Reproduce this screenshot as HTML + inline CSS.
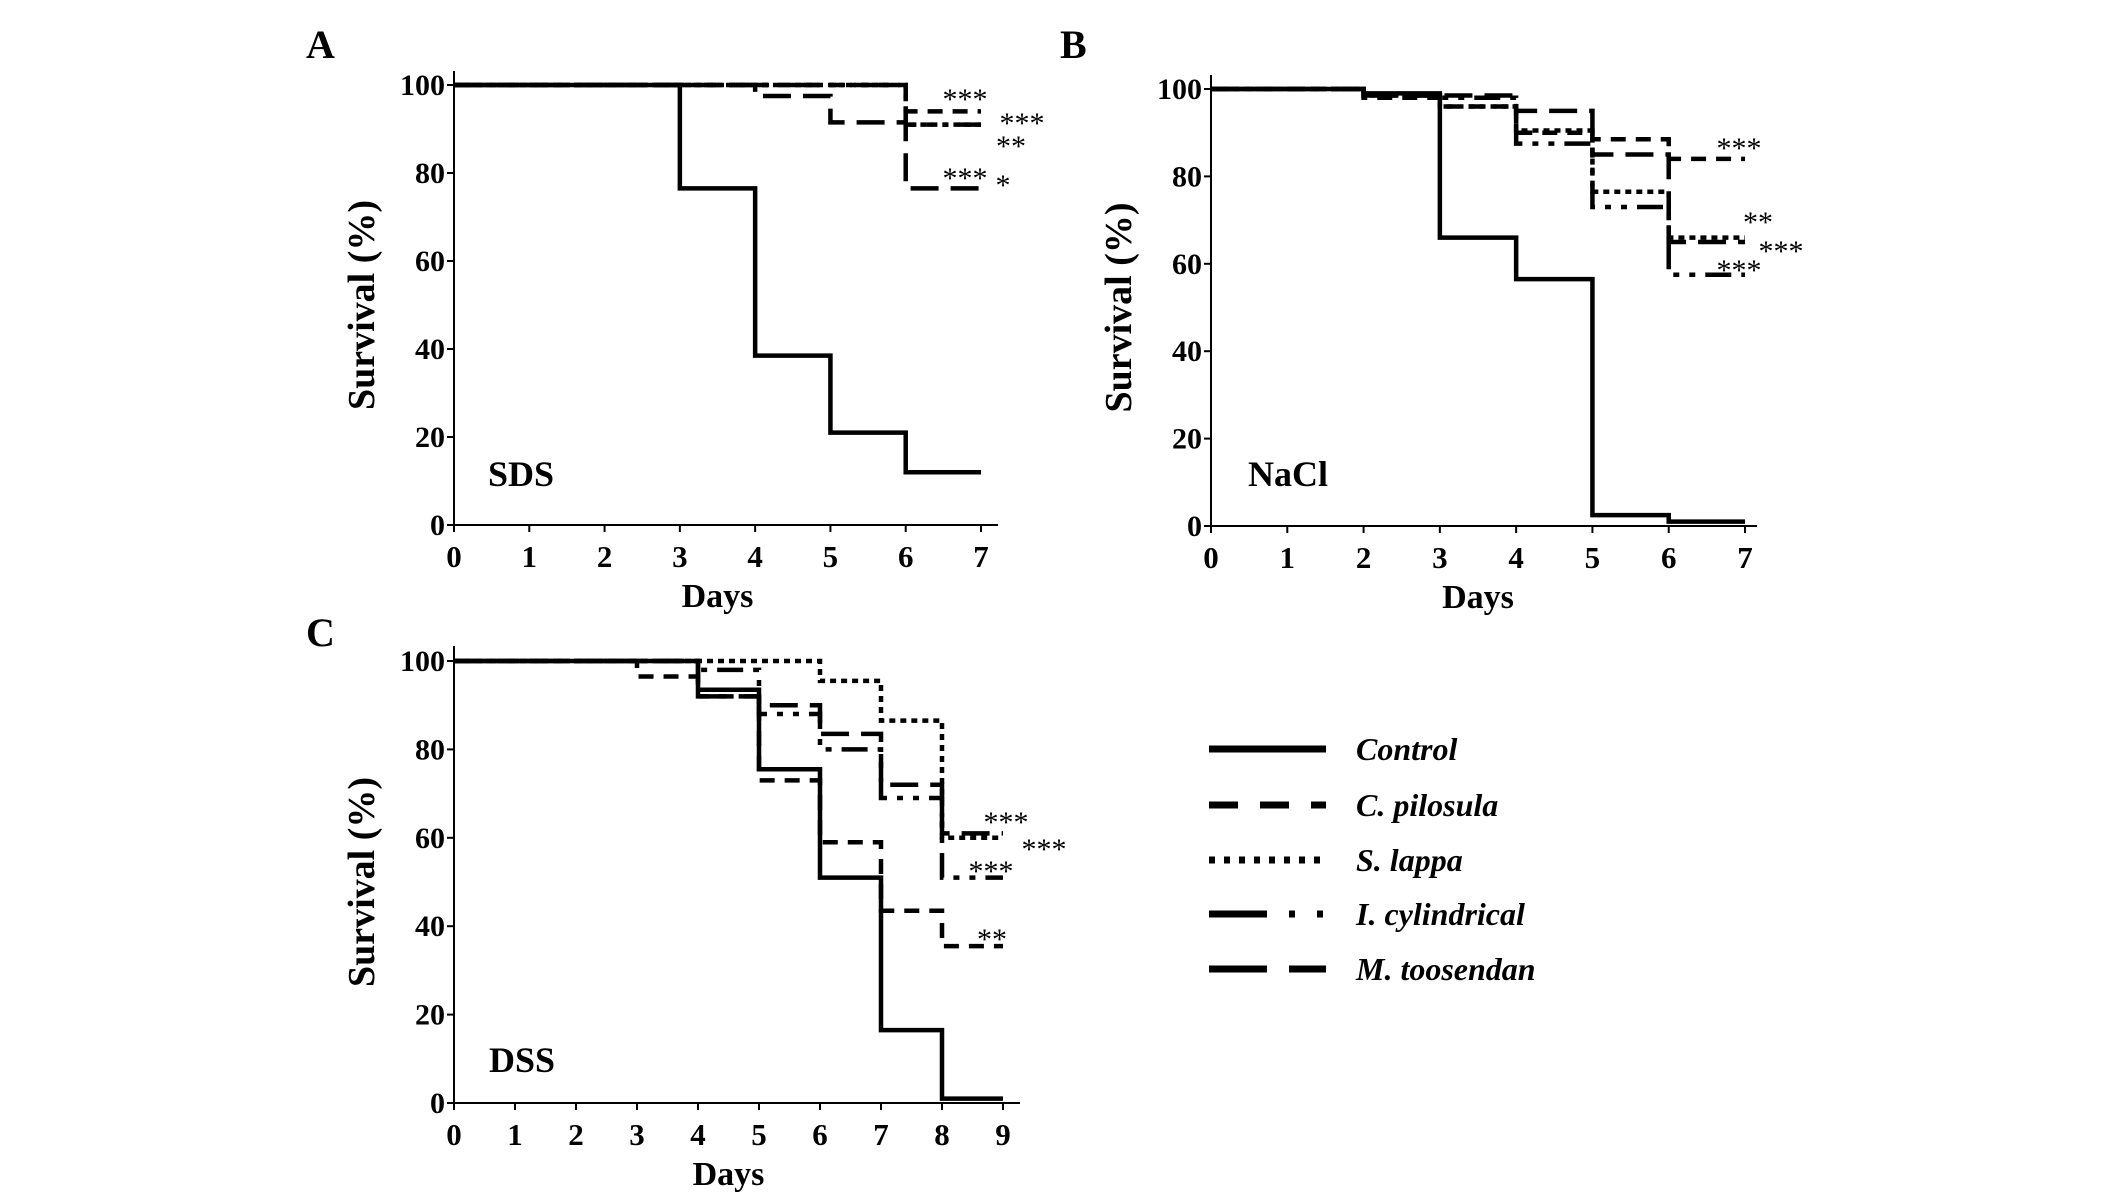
<!DOCTYPE html>
<html><head><meta charset="utf-8"><style>
html,body{margin:0;padding:0;background:#fff;}
svg{display:block;}
text{font-family:"Liberation Serif",serif;fill:#000;}
</style></head>
<body>
<svg id="fig" width="2126" height="1197" viewBox="0 0 2126 1197" xmlns="http://www.w3.org/2000/svg">
<rect width="2126" height="1197" fill="#fff"/>
</svg>
<script>
// ---- data ----
const seriesNames = ["Control","C. pilosula","S. lappa","I. cylindrical","M. toosendan"];
const daysA = [0,1,2,3,4,5,6,7];
const A_control = [100,100,100,76.5,38.5,21,12,12];
const A_pilosula = [100,100,100,100,100,100,94,94];
const A_lappa = [100,100,100,100,100,100,91,91];
const A_cylindrical = [100,100,100,100,100,100,91,91];
const A_toosendan = [100,100,100,100,97.5,91.5,76.5,76.5];
const daysB = [0,1,2,3,4,5,6,7];
const B_control = [100,100,99,66,56.5,2.5,1,1];
const B_pilosula = [100,100,98,96,90,88.5,84,84];
const B_lappa = [100,100,98.5,96,90.5,76.5,66,66];
const B_cylindrical = [100,100,98.5,98,87.5,73,57.5,57.5];
const B_toosendan = [100,100,98.5,98.5,95,85,65,65];
const daysC = [0,1,2,3,4,5,6,7,8,9];
const C_control = [100,100,100,100,93.5,75.5,51,16.5,1,1];
const C_pilosula = [100,100,100,96.5,92,73,59,43.5,35.5,35.5];
const C_lappa = [100,100,100,100,100,100,95.5,86.5,60,60];
const C_cylindrical = [100,100,100,100,98,88,80,69,51,51];
const C_toosendan = [100,100,100,100,92,90,83.5,72,61,61];
const yTicks = [0,20,40,60,80,100];

const NS="http://www.w3.org/2000/svg";
const svg=document.getElementById('fig');
function mk(tag,attrs,parent){const e=document.createElementNS(NS,tag);for(const k in attrs)e.setAttribute(k,attrs[k]);(parent||svg).appendChild(e);return e;}
const dashes=[null,"15 10","6 5","26 10 6 10 6 10","28 12"];

function panel(cfg){
  const g=mk('g',{});
  
  
  const xs=d=>cfg.x0+(d-cfg.days[0])*(cfg.x1-cfg.x0)/(cfg.days[cfg.days.length-1]-cfg.days[0]);
  const ys=v=>cfg.y0+(v/100)*(cfg.y100-cfg.y0);
  const ya=mk('line',{x1:cfg.x0,y1:cfg.yTop,x2:cfg.x0,y2:cfg.y0,stroke:'#000','stroke-width':2},g);
  
  
  const xa=mk('line',{x1:cfg.x0,y1:cfg.y0,x2:cfg.xEnd,y2:cfg.y0,stroke:'#000','stroke-width':2},g);
  
  
  yTicks.forEach(t=>{
    mk('line',{x1:cfg.x0-7,y1:ys(t),x2:cfg.x0,y2:ys(t),stroke:'#000','stroke-width':2},g);
    const tx=mk('text',{x:cfg.x0-9,y:ys(t)+10,'text-anchor':'end','font-size':30,'font-weight':'bold'},g);
    tx.textContent=t;
    
    
  });
  cfg.days.forEach(d=>{
    mk('line',{x1:xs(d),y1:cfg.y0,x2:xs(d),y2:cfg.y0+7,stroke:'#000','stroke-width':2},g);
    const tx=mk('text',{x:xs(d),y:cfg.y0+42,'text-anchor':'middle','font-size':31,'font-weight':'bold'},g);
    tx.textContent=d;
    
    
  });
  cfg.series.forEach((vals,i)=>{
    let p='';
    for(let k=0;k<cfg.days.length-1;k++){
      const xa_=xs(cfg.days[k]),xb=xs(cfg.days[k+1]),y=ys(vals[k]);
      if(k===0)p+=`M${xa_},${y}`;else p+=`L${xa_},${y}`;
      p+=`L${xb},${y}`;
    }
    const path=mk('path',{d:p,fill:'none',stroke:'#000','stroke-width':4.5},g);
    if(dashes[i])path.setAttribute('stroke-dasharray',dashes[i]);
    
    
  });
  const yt=mk('text',{x:0,y:0,'text-anchor':'middle','font-size':38,'font-weight':'bold',transform:`translate(${cfg.x0-80},${(cfg.y0+cfg.y100)/2}) rotate(-90)`},g);
  yt.textContent='Survival (%)';
  
  
  const xt=mk('text',{x:(cfg.x0+cfg.x1)/2,y:cfg.y0+82,'text-anchor':'middle','font-size':34,'font-weight':'bold'},g);
  xt.textContent='Days';
  
  
  const lt=mk('text',{x:cfg.lx,y:cfg.ly,'font-size':40,'font-weight':'bold'},g);
  lt.textContent=cfg.letter;
  
  
  const ct=mk('text',{x:cfg.cx,y:cfg.cy,'font-size':36,'font-weight':'bold'},g);
  ct.textContent=cfg.cond;
  
  
  cfg.stars.forEach(s=>{
    const st=mk('text',{x:s[0],y:s[1]+14,'text-anchor':'middle','font-size':30},g);
    st.textContent=s[2];
    
    
  });
}

panel({id:'sds',days:daysA,x0:454,x1:981,xEnd:998,y0:525,y100:85,yTop:71,
  series:[A_control,A_pilosula,A_lappa,A_cylindrical,A_toosendan],
  letter:'A',lx:306,ly:58,cond:'SDS',cx:488,cy:486,
  stars:[[965,95,'***'],[1022,119,'***'],[1011,142,'**'],[965,174,'***'],[1003,181,'*']]});
panel({id:'nacl',days:daysB,x0:1211,x1:1745,xEnd:1757,y0:526,y100:89,yTop:75,
  series:[B_control,B_pilosula,B_lappa,B_cylindrical,B_toosendan],
  letter:'B',lx:1060,ly:58,cond:'NaCl',cx:1248,cy:486,
  stars:[[1739,144,'***'],[1758,218,'**'],[1781,247,'***'],[1739,266,'***']]});
panel({id:'dss',days:daysC,x0:454,x1:1003,xEnd:1020,y0:1103,y100:661,yTop:646,
  series:[C_control,C_pilosula,C_lappa,C_cylindrical,C_toosendan],
  letter:'C',lx:306,ly:646,cond:'DSS',cx:489,cy:1072,
  stars:[[1006,818,'***'],[1044,845,'***'],[991,867,'***'],[992,935,'**']]});

const lg=mk('g',{});


const legY=[749,805,860,914,969];
const legDash=[null,"29 22","6 9","58 22 6 22 6 22","58 22"];
seriesNames.forEach((n,i)=>{
  const ln=mk('line',{x1:1209,y1:legY[i],x2:1326,y2:legY[i],stroke:'#000','stroke-width':7},lg);
  if(legDash[i])ln.setAttribute('stroke-dasharray',legDash[i]);
  
  
  const t=mk('text',{x:1356,y:legY[i]+11,'font-size':32,'font-weight':'bold','font-style':'italic'},lg);
  t.textContent=n;
  
  
});
</script>
</body></html>
